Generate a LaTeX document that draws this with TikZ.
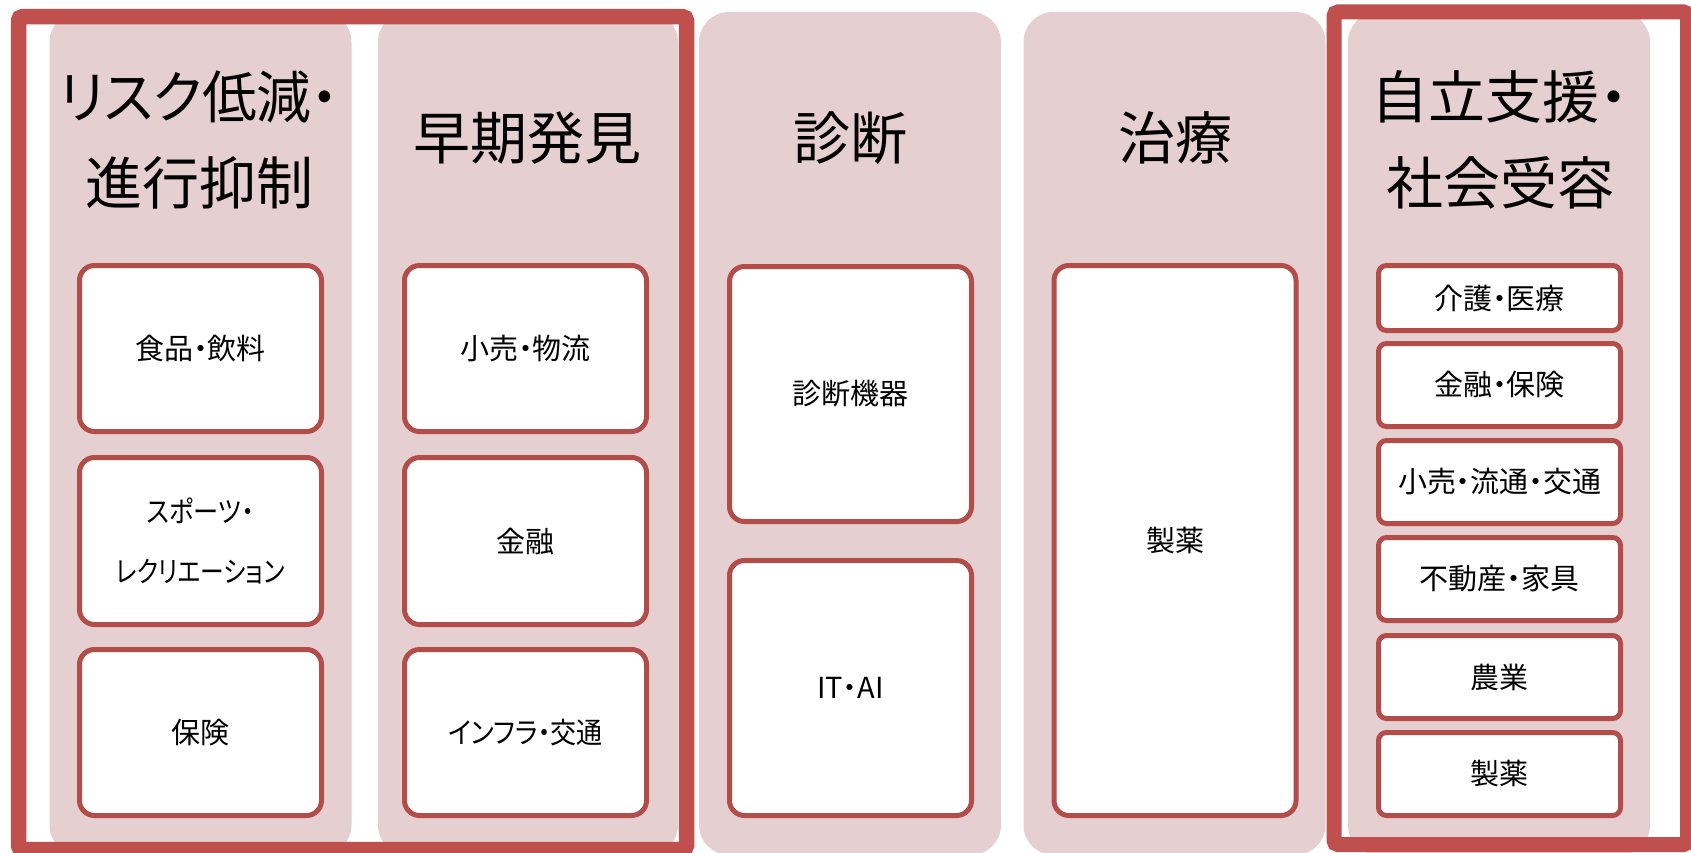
\documentclass[tikz,border=0pt]{standalone}
\usepackage{graphicx}
\usepackage{fontspec}
\setmainfont{Noto Sans CJK JP}[RawFeature=+palt]
\definecolor{framered}{HTML}{C0504D}
\definecolor{boxred}{HTML}{B24D4A}
\definecolor{colpink}{HTML}{E6CFD0}
\begin{document}
\begin{tikzpicture}[x=1pt,y=-1pt,
  colbg/.style={fill=colpink, draw=none, rounded corners=30pt, minimum width=302pt, minimum height=843pt, inner sep=0pt},
  outerframe/.style={draw=framered, line width=15.5pt, rounded corners=4pt},
  itembox/.style={draw=boxred, fill=white, line width=5pt, rounded corners=15pt, minimum width=242pt, inner sep=0pt, align=center, font=\fontsize{29}{60}\selectfont},
  smallitem/.style={itembox, rounded corners=8pt, minimum height=83pt},
  coltitle/.style={align=center, inner sep=0pt, font=\fontsize{57}{86}\selectfont}
]
\useasboundingbox (0,0) rectangle (1691,853);
\fill[white] (0,0) rectangle (1691,853);

% column backgrounds
\node[colbg] (p1) at (200.5,433.5) {};
\node[colbg, minimum width=300pt] (p2) at (528,433.5) {};
\node[colbg] (p3) at (850,433.5) {};
\node[colbg] (p4) at (1174.5,433.5) {};
\node[colbg] (p5) at (1499,433.5) {};

% outer frames
\draw[outerframe] (18.5,16.7) rectangle (686.5,849.5);
\draw[outerframe, line width=15pt] (1334,12) rectangle (1687.5,844.5);

% titles
\node[coltitle] (t1) at (199,140) {\scalebox{0.96}[1]{リスク低減・}\\進行抑制};
\node[coltitle] (t2) at (527,138) {早期発見};
\node[coltitle] (t3) at (850,138) {診断};
\node[coltitle] (t4) at (1175,138) {治療};
\node[coltitle] (t5) at (1500,140) {自立支援・\\社会受容};

% column 1
\node[itembox, minimum height=166pt] (b11) at (200.5,348.5) {食品・飲料};
\node[itembox, minimum height=167pt] (b12) at (200.5,541) {\scalebox{0.87}[1]{スポーツ・}\\\scalebox{0.82}[1]{レクリエーション}};
\node[itembox, minimum height=166pt] (b13) at (200.5,732.5) {保険};

% column 2
\node[itembox, minimum height=166pt] (b21) at (525.5,348.5) {小売・物流};
\node[itembox, minimum height=167pt] (b22) at (525.5,541) {金融};
\node[itembox, minimum height=166pt] (b23) at (525.5,732.5) {\scalebox{0.9}[1]{インフラ・交通}};

% column 3
\node[itembox, minimum height=255pt] (b31) at (850.5,394) {診断機器};
\node[itembox, minimum height=255pt] (b32) at (850.5,688) {IT・AI};

% column 4
\node[itembox, minimum height=550pt] (b41) at (1175,540.5) {製薬};

% column 5
\node[smallitem, minimum height=65pt] (b51) at (1499.5,298) {介護・医療};
\node[smallitem] (b52) at (1499.5,385) {金融・保険};
\node[smallitem] (b53) at (1499.5,482) {小売・流通・交通};
\node[smallitem] (b54) at (1499.5,579) {不動産・家具};
\node[smallitem] (b55) at (1499.5,677) {農業};
\node[smallitem] (b56) at (1499.5,774) {製薬};
\end{tikzpicture}
\end{document}
